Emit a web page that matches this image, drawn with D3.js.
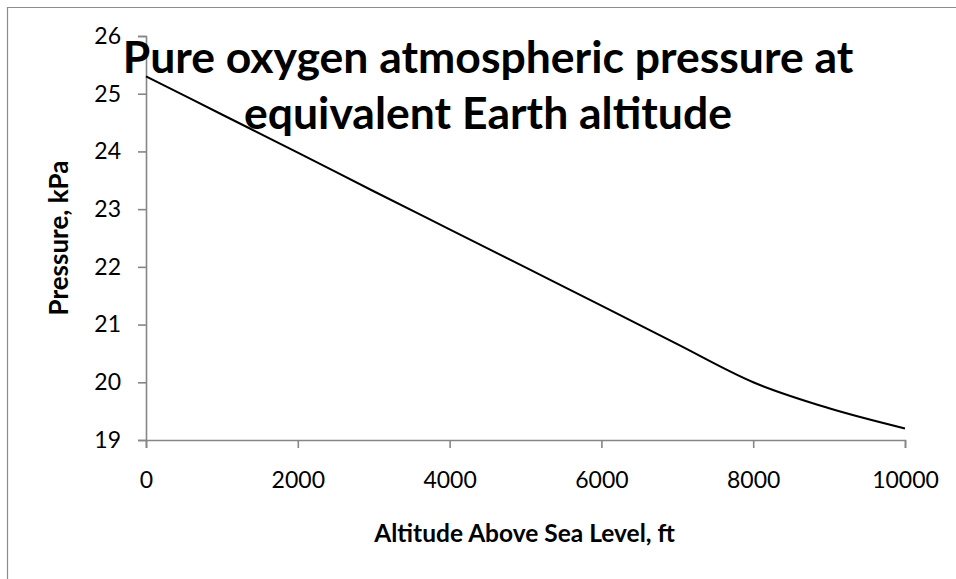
<!DOCTYPE html>
<html>
<head>
<meta charset="utf-8">
<script src="https://cdn.jsdelivr.net/npm/d3@7"></script>
<style>
  html, body { margin: 0; padding: 0; background: #fff; }
  svg { display: block; font-family: Lato, "Open Sans", sans-serif; }
</style>
</head>
<body>
<svg id="chart" width="956" height="579"></svg>
<script>
// Altitude (ft) and the pure-oxygen pressure (kPa) giving the same O2 partial pressure
const altitudeFt = [0, 1000, 2000, 3000, 4000, 5000, 6000, 7000, 8000, 9000, 10000];
const pressureKPa = [25.3, 24.64, 23.98, 23.31, 22.65, 21.99, 21.33, 20.66, 20.0, 19.55, 19.2];

const xTicks = [0, 2000, 4000, 6000, 8000, 10000];
const yTicks = [19, 20, 21, 22, 23, 24, 25, 26];

const titleLines = ["Pure oxygen atmospheric pressure at", "equivalent Earth altitude"];
const xTitle = "Altitude Above Sea Level, ft";
const yTitle = "Pressure, kPa";

const svg = d3.select("#chart");
const W = 956, H = 579;
const plot = { left: 146, right: 905, top: 36, bottom: 440 };
const axisColor = "#868686";

// chart frame
svg.append("path")
  .attr("d", `M7.5,${H} L7.5,7.5 L${W},7.5`)
  .attr("fill", "none")
  .attr("stroke", "#8c8c8c")
  .attr("stroke-width", 1.2);

const x = d3.scaleLinear().domain([0, 10000]).range([plot.left, plot.right]);
const y = d3.scaleLinear().domain([19, 26]).range([plot.bottom, plot.top]);

// y axis
const yAxis = svg.append("g")
  .attr("transform", `translate(${plot.left},0)`)
  .call(d3.axisLeft(y).tickValues(yTicks).tickFormat(d3.format("d")).tickSizeOuter(0).tickSize(8).tickPadding(17));

// x axis
const xAxis = svg.append("g")
  .attr("transform", `translate(0,${plot.bottom})`)
  .call(d3.axisBottom(x).tickValues(xTicks).tickFormat(d3.format("d")).tickSizeOuter(0).tickSize(8).tickPadding(24));

[xAxis, yAxis].forEach(g => {
  g.select(".domain").attr("stroke", axisColor).attr("stroke-width", 1.6);
  g.selectAll(".tick line").attr("stroke", axisColor).attr("stroke-width", 1.6);
  g.selectAll(".tick text")
    .attr("fill", "#000")
    .style("font-family", "Lato, sans-serif")
    .style("font-size", "23px");
});

// series line
const line = d3.line()
  .x((d, i) => x(altitudeFt[i]))
  .y(d => y(d))
  .curve(d3.curveCardinal.tension(0));

svg.append("path")
  .datum(pressureKPa)
  .attr("d", line)
  .attr("fill", "none")
  .attr("stroke", "#000")
  .attr("stroke-width", 2);

// title
const title = svg.append("text")
  .attr("text-anchor", "middle")
  .style("font-weight", "bold")
  .style("font-size", "44.5px")
  .attr("fill", "#000");
titleLines.forEach((t, i) => {
  title.append("tspan").attr("x", 488).attr("y", 73 + i * 56).text(t);
});

// axis titles
svg.append("text")
  .attr("x", (plot.left + plot.right) / 2 - 1)
  .attr("y", 542)
  .attr("text-anchor", "middle")
  .style("font-weight", "bold")
  .style("font-size", "24.5px")
  .text(xTitle);

svg.append("text")
  .attr("transform", `translate(68,${(plot.top + plot.bottom) / 2}) rotate(-90)`)
  .attr("text-anchor", "middle")
  .style("font-weight", "bold")
  .style("font-size", "26px")
  .text(yTitle);
</script>
</body>
</html>
